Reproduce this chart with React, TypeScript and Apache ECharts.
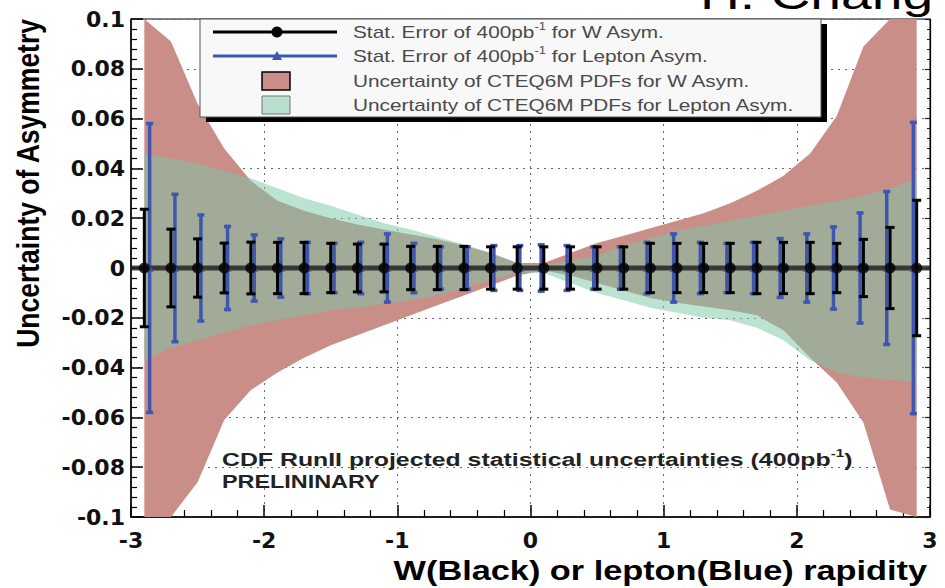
import React, { useEffect, useRef } from "react";
import * as echarts from "echarts";

// ---------- data ----------
const wX = [-2.9, -2.7, -2.5, -2.3, -2.1, -1.9, -1.7, -1.5, -1.3, -1.1, -0.9, -0.7, -0.5, -0.3, -0.1,
  0.1, 0.3, 0.5, 0.7, 0.9, 1.1, 1.3, 1.5, 1.7, 1.9, 2.1, 2.3, 2.5, 2.7, 2.9];
const lX = [-2.86, -2.67, -2.475, -2.275, -2.075, -1.875, -1.675, -1.475, -1.275, -1.075, -0.875, -0.675, -0.475, -0.275, -0.08,
  0.08, 0.275, 0.475, 0.675, 0.875, 1.075, 1.275, 1.475, 1.675, 1.875, 2.075, 2.275, 2.475, 2.675, 2.875];
const wStatErr = [0.0236, 0.0156, 0.0117, 0.0100, 0.0104, 0.0103, 0.0103, 0.0099, 0.0096, 0.0096, 0.0087, 0.0087, 0.0087, 0.0085, 0.0085,
  0.0085, 0.0085, 0.0085, 0.0085, 0.0099, 0.0099, 0.0099, 0.0099, 0.0103, 0.0103, 0.0103, 0.0099, 0.0115, 0.0163, 0.0272];
const lStatErr = [0.058, 0.0296, 0.0213, 0.0167, 0.0133, 0.0117, 0.0103, 0.0099, 0.0103, 0.0137, 0.0099, 0.0085, 0.0085, 0.0090, 0.0090,
  0.0093, 0.0090, 0.0085, 0.0085, 0.0103, 0.0137, 0.0103, 0.0099, 0.0103, 0.0118, 0.0137, 0.0165, 0.0221, 0.0307, 0.0585];
const wPdfUpper = [0.100, 0.091, 0.066, 0.048, 0.035, 0.027, 0.023, 0.020, 0.0175, 0.0155, 0.0135, 0.0115, 0.009, 0.006, 0.002,
  0.002, 0.006, 0.010, 0.013, 0.016, 0.019, 0.022, 0.026, 0.031, 0.037, 0.046, 0.061, 0.089, 0.100, 0.100];
const wPdfLower = [-0.100, -0.100, -0.086, -0.061, -0.049, -0.042, -0.036, -0.031, -0.027, -0.023, -0.019, -0.015, -0.011, -0.007, -0.003,
  -0.001, -0.003, -0.006, -0.009, -0.012, -0.014, -0.0155, -0.017, -0.019, -0.025, -0.036, -0.046, -0.062, -0.097, -0.100];
const lPdfUpper = [0.046, 0.044, 0.042, 0.039, 0.036, 0.032, 0.028, 0.025, 0.0215, 0.018, 0.0155, 0.0125, 0.0095, 0.006, 0.002,
  0.001, 0.003, 0.005, 0.009, 0.012, 0.015, 0.017, 0.019, 0.021, 0.023, 0.025, 0.027, 0.029, 0.032, 0.036];
const lPdfLower = [-0.037, -0.032, -0.029, -0.026, -0.023, -0.021, -0.019, -0.017, -0.016, -0.0145, -0.013, -0.011, -0.008, -0.005, -0.002,
  -0.002, -0.006, -0.010, -0.013, -0.016, -0.018, -0.020, -0.021, -0.024, -0.029, -0.037, -0.042, -0.044, -0.045, -0.046];
const xTickValues = [-3, -2, -1, 0, 1, 2, 3];
const yTickValues = [-0.1, -0.08, -0.06, -0.04, -0.02, 0, 0.02, 0.04, 0.06, 0.08, 0.1];

const seriesNames = [
  "Stat. Error of 400pb-1 for W Asym.",
  "Stat. Error of 400pb-1 for Lepton Asym.",
  "Uncertainty of CTEQ6M PDFs for W Asym.",
  "Uncertainty of CTEQ6M PDFs for Lepton Asym.",
];

const RED = "#c98e88";
const BLUE = "#3d56b0";
const GREEN = "rgba(122,200,165,0.5)";

function bandSeries(name: string, upper: number[], lower: number[], fill: any, z: number) {
  return {
    type: "custom",
    name,
    z,
    silent: true,
    coordinateSystem: "cartesian2d",
    xAxisIndex: 0,
    yAxisIndex: 0,
    data: wX.map((x, i) => [x, lower[i], upper[i]]),
    encode: { x: 0, y: [1, 2] },
    renderItem: (params: any, api: any) => {
      if (params.dataIndex !== 0) return null;
      const pts: number[][] = [];
      for (let i = 0; i < wX.length; i++) pts.push(api.coord([wX[i], upper[i]]));
      for (let i = wX.length - 1; i >= 0; i--) pts.push(api.coord([wX[i], lower[i]]));
      return { type: "polygon", shape: { points: pts }, style: { fill, stroke: null } };
    },
  };
}

function errSeries(name: string, xs: number[], errs: number[], color: string, lw: number, cap: number, z: number) {
  return {
    type: "custom",
    name,
    z,
    silent: true,
    coordinateSystem: "cartesian2d",
    xAxisIndex: 0,
    yAxisIndex: 0,
    data: xs.map((x, i) => [x, -errs[i], errs[i]]),
    encode: { x: 0, y: [1, 2] },
    renderItem: (params: any, api: any) => {
      const x = api.value(0);
      const lo = api.coord([x, api.value(1)]);
      const hi = api.coord([x, api.value(2)]);
      const st = { stroke: color, lineWidth: lw };
      return {
        type: "group",
        children: [
          { type: "line", shape: { x1: lo[0], y1: lo[1], x2: hi[0], y2: hi[1] }, style: st },
          { type: "line", shape: { x1: lo[0] - cap, y1: lo[1], x2: lo[0] + cap, y2: lo[1] }, style: st },
          { type: "line", shape: { x1: hi[0] - cap, y1: hi[1], x2: hi[0] + cap, y2: hi[1] }, style: st },
        ],
      };
    },
  };
}

function txt(x: number, y: number, text: string, size: number, opts: any = {}) {
  const { scaleX = 1, scaleY = 1, rotation = 0, weight = "normal", fill = "#000", align = "left", sup = 0, lineHeight } = opts;
  const style: any = {
    text,
    fontFamily: "Liberation Sans",
    fontWeight: weight,
    fontSize: size,
    fill,
    align,
    verticalAlign: "middle",
  };
  if (sup) {
    style.lineHeight = lineHeight || Math.round(size * 1.3);
    style.rich = {
      sup: { fontFamily: "Liberation Sans", fontWeight: weight, fontSize: sup, fill, verticalAlign: "top", lineHeight: sup },
    };
  }
  return { type: "text", x, y, scaleX, scaleY, rotation, z: 120, silent: true, style };
}

export default function App() {
  const ref = useRef<HTMLDivElement>(null);
  useEffect(() => {
    if (!ref.current) return;
    const chart = echarts.init(ref.current, null, { renderer: "svg" });
    const labelStyle = { fontFamily: "DejaVu Sans", fontWeight: "bold", fontSize: 22, color: "#111" };
    const dotted = { type: [2, 5], color: "#666", width: 1 };
    const legendTextOpts = { scaleX: 1.3, fill: "#4a4a4a", sup: 10, lineHeight: 20 };

    const option: any = {
      animation: false,
      backgroundColor: "#ffffff",
      grid: { left: 131, top: 19, width: 799, height: 498, show: true, borderColor: "#000", borderWidth: 1, backgroundColor: "transparent" },
      xAxis: {
        type: "value",
        min: xTickValues[0],
        max: xTickValues[xTickValues.length - 1],
        interval: xTickValues[1] - xTickValues[0],
        axisLine: { show: true, onZero: false, lineStyle: { color: "#000", width: 1.5 } },
        axisTick: { show: true, inside: true, length: 12, lineStyle: { color: "#000", width: 1.5 } },
        minorTick: { show: true, splitNumber: 5, length: 7, lineStyle: { color: "#000", width: 1.2 } },
        axisLabel: { ...labelStyle, margin: 12, formatter: (v: number) => String(v) },
        splitLine: { show: true, lineStyle: dotted },
      },
      yAxis: [
        {
          type: "value",
          min: yTickValues[0],
          max: yTickValues[yTickValues.length - 1],
          interval: 0.02,
          axisLine: { show: true, onZero: false, lineStyle: { color: "#000", width: 1.5 } },
          axisTick: { show: true, inside: true, length: 12, lineStyle: { color: "#000", width: 1.5 } },
          minorTick: { show: true, splitNumber: 5, length: 6, lineStyle: { color: "#000", width: 1.2 } },
          axisLabel: {
            ...labelStyle,
            margin: 6,
            formatter: (v: number) => {
              const r = Math.round(v * 100) / 100;
              return r === 0 ? "0" : String(r);
            },
          },
          splitLine: { show: true, lineStyle: dotted },
        },
        {
          type: "value",
          position: "right",
          min: yTickValues[0],
          max: yTickValues[yTickValues.length - 1],
          interval: 0.02,
          axisLine: { show: true, onZero: false, lineStyle: { color: "#000", width: 1.2 } },
          axisTick: { show: true, inside: true, length: 5, lineStyle: { color: "#222", width: 1.2 } },
          minorTick: { show: true, splitNumber: 5, length: 3, lineStyle: { color: "#222", width: 1 } },
          axisLabel: { show: false },
          splitLine: { show: false },
        },
      ],
      series: [
        bandSeries(seriesNames[2], wPdfUpper, wPdfLower, RED, 2),
        bandSeries(seriesNames[3], lPdfUpper, lPdfLower, GREEN, 3),
        errSeries(seriesNames[1] + " bars", lX, lStatErr, BLUE, 3.5, 3.5, 4),
        errSeries(seriesNames[0] + " bars", wX, wStatErr, "#000", 3, 4.5, 5),
        {
          type: "line",
          name: "zero",
          z: 6,
          silent: true,
          data: [[xTickValues[0], 0], [xTickValues[xTickValues.length - 1], 0]],
          showSymbol: false,
          lineStyle: { color: "rgba(35,35,35,0.85)", width: 5 },
        },
        {
          type: "scatter",
          name: seriesNames[1],
          z: 7,
          silent: true,
          symbol: "triangle",
          symbolSize: 8,
          itemStyle: { color: BLUE },
          data: lX.map((x) => [x, 0]),
        },
        {
          type: "scatter",
          name: seriesNames[0],
          z: 8,
          silent: true,
          symbol: "circle",
          symbolSize: 11,
          itemStyle: { color: "#000" },
          data: wX.map((x) => [x, 0]),
        },
      ],
      graphic: [
        // legend
        { type: "rect", z: 110, silent: true, shape: { x: 206, y: 24, width: 621, height: 98 }, style: { fill: "#000" } },
        { type: "rect", z: 111, silent: true, shape: { x: 200, y: 19, width: 621, height: 98 }, style: { fill: "#f8f8f8", stroke: "#555", lineWidth: 1 } },
        { type: "line", z: 112, silent: true, shape: { x1: 213, y1: 32, x2: 337, y2: 32 }, style: { stroke: "#000", lineWidth: 3 } },
        { type: "circle", z: 113, silent: true, shape: { cx: 277, cy: 32, r: 5.5 }, style: { fill: "#000" } },
        { type: "line", z: 112, silent: true, shape: { x1: 213, y1: 56, x2: 337, y2: 56 }, style: { stroke: BLUE, lineWidth: 3 } },
        { type: "polygon", z: 113, silent: true, shape: { points: [[277, 51], [282, 60], [272, 60]] }, style: { fill: BLUE } },
        { type: "rect", z: 112, silent: true, shape: { x: 262, y: 72, width: 28, height: 18 }, style: { fill: RED, stroke: "#000", lineWidth: 1.5 } },
        { type: "rect", z: 112, silent: true, shape: { x: 262, y: 96, width: 28, height: 18 }, style: { fill: GREEN, stroke: "#777", lineWidth: 1 } },
        txt(353, 32, "Stat. Error of 400pb{sup|-1} for W Asym.", 16, legendTextOpts),
        txt(353, 56, "Stat. Error of 400pb{sup|-1} for Lepton Asym.", 16, legendTextOpts),
        txt(353, 81, seriesNames[2], 16, { scaleX: 1.3, fill: "#4a4a4a" }),
        txt(353, 105, seriesNames[3], 16, { scaleX: 1.3, fill: "#4a4a4a" }),
        // annotation
        txt(222, 460, "CDF RunII projected statistical uncertainties (400pb{sup|-1})", 18, { scaleX: 1.38, weight: "bold", fill: "#222", sup: 11, lineHeight: 24 }),
        txt(222, 482, "PRELININARY", 18, { scaleX: 1.3, weight: "bold", fill: "#222" }),
        // axis titles
        txt(927, 571, "W(Black) or lepton(Blue) rapidity", 27, { scaleX: 1.27, weight: "bold", align: "right" }),
        txt(28, 19, "Uncertainty of Asymmetry", 26.5, { rotation: Math.PI / 2, scaleY: 1.15, weight: "bold", align: "right" }),
        // author tag (cut at top, as in the reference)
        txt(700, -5, "H. Chang", 40, { scaleX: 1.38 }),
      ],
    };
    chart.setOption(option);
    return () => chart.dispose();
  }, []);
  return <div ref={ref} style={{ position: "absolute", left: 0, top: 0, width: 945, height: 588 }} />;
}
